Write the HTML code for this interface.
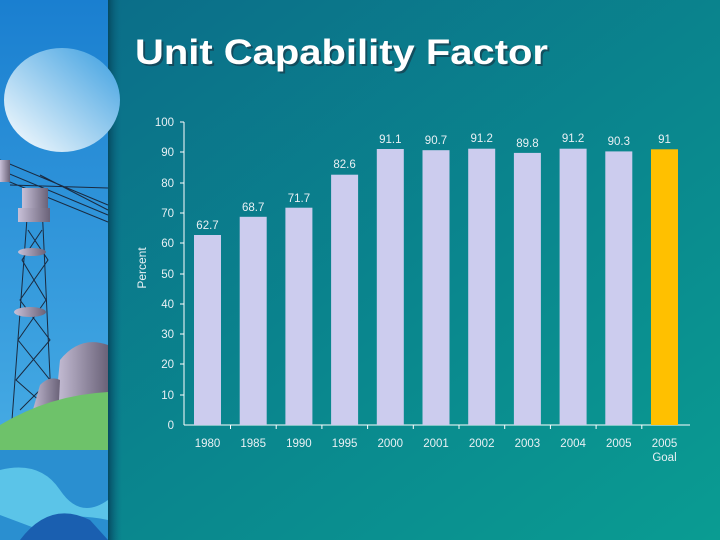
<!DOCTYPE html>
<html><head><style>
body{margin:0;width:720px;height:540px;overflow:hidden;font-family:"Liberation Sans",sans-serif}
</style></head><body>
<svg width="720" height="540" xmlns="http://www.w3.org/2000/svg">
<defs>
<linearGradient id="bg" x1="0" y1="0" x2="1" y2="1">
<stop offset="0" stop-color="#0b6a88"/><stop offset="1" stop-color="#0a9c92"/></linearGradient>
<linearGradient id="sky" x1="0" y1="0" x2="0" y2="1">
<stop offset="0" stop-color="#1a7fd0"/><stop offset="1" stop-color="#4fb4e8"/></linearGradient>
<linearGradient id="moon" x1="0" y1="1" x2="1" y2="0">
<stop offset="0" stop-color="#ffffff"/><stop offset="1" stop-color="#3a9ee0"/></linearGradient>
<linearGradient id="edge" x1="0" y1="0" x2="1" y2="0">
<stop offset="0" stop-color="#054a60"/><stop offset="1" stop-color="#0b6a88" stop-opacity="0"/></linearGradient>
<linearGradient id="tow" x1="0" y1="0" x2="1" y2="0">
<stop offset="0" stop-color="#c8c0d8"/><stop offset="1" stop-color="#6a6278"/></linearGradient>
</defs>
<rect width="720" height="540" fill="url(#bg)"/>
<rect x="108" width="14" height="540" fill="url(#edge)"/>
<rect width="108" height="540" fill="url(#sky)"/>
<ellipse cx="62" cy="100" rx="58" ry="52" fill="url(#moon)"/>
<g stroke="#1a2a40" stroke-width="1" fill="none">
<path d="M0 160 L108 205 M0 170 L108 215 M0 178 L108 222 M10 185 L108 188 M40 175 L108 210"/>
<path d="M28 205 L12 420 M42 205 L52 420 M28 230 L48 260 L20 300 L50 340 L16 380 L50 410 M42 230 L22 260 L46 300 L18 340 L50 380 L20 410"/>
</g>
<rect x="22" y="188" width="26" height="22" fill="url(#tow)"/>
<rect x="18" y="208" width="32" height="14" fill="url(#tow)"/>
<rect x="0" y="160" width="10" height="22" fill="url(#tow)"/>
<ellipse cx="32" cy="252" rx="14" ry="4" fill="url(#tow)"/>
<ellipse cx="30" cy="312" rx="16" ry="5" fill="url(#tow)"/>
<path d="M55 410 L60 360 Q80 335 108 345 L108 410 Z" fill="url(#tow)"/>
<path d="M30 420 L40 385 Q50 375 60 380 L58 420 Z" fill="url(#tow)"/>
<path d="M0 425 Q50 395 108 392 L108 450 L0 450 Z" fill="#6ec26a"/>
<rect x="0" y="450" width="108" height="90" fill="#2a8fd0"/>
<path d="M0 470 Q40 460 60 490 T108 500 L108 520 Q60 510 40 530 L0 515 Z" fill="#5bc4e8"/>
<path d="M20 540 Q50 500 90 520 L108 540 Z" fill="#1a5fb0"/>
<text x="137" y="66" font-size="35" font-weight="bold" fill="#1a3040" opacity="0.6" textLength="413" lengthAdjust="spacingAndGlyphs">Unit Capability Factor</text>
<text x="135" y="64" font-size="35" font-weight="bold" fill="#fff" textLength="413" lengthAdjust="spacingAndGlyphs">Unit Capability Factor</text>
<g stroke="#fff" stroke-width="1">
<line x1="184" y1="122" x2="184" y2="425"/><line x1="184" y1="425" x2="690" y2="425"/>
<line x1="180" y1="122" x2="184" y2="122"/><line x1="180" y1="152" x2="184" y2="152"/><line x1="180" y1="183" x2="184" y2="183"/><line x1="180" y1="213" x2="184" y2="213"/><line x1="180" y1="243" x2="184" y2="243"/><line x1="180" y1="274" x2="184" y2="274"/><line x1="180" y1="304" x2="184" y2="304"/><line x1="180" y1="334" x2="184" y2="334"/><line x1="180" y1="364" x2="184" y2="364"/><line x1="180" y1="395" x2="184" y2="395"/>
<line x1="230.5" y1="425" x2="230.5" y2="429"/><line x1="276.2" y1="425" x2="276.2" y2="429"/><line x1="321.9" y1="425" x2="321.9" y2="429"/><line x1="367.6" y1="425" x2="367.6" y2="429"/><line x1="413.3" y1="425" x2="413.3" y2="429"/><line x1="459" y1="425" x2="459" y2="429"/><line x1="504.7" y1="425" x2="504.7" y2="429"/><line x1="550.4" y1="425" x2="550.4" y2="429"/><line x1="596.1" y1="425" x2="596.1" y2="429"/><line x1="641.8" y1="425" x2="641.8" y2="429"/>
</g>
<g fill="#e8f0f4" font-size="11.5" text-anchor="end">
<text x="174" y="126">100</text><text x="174" y="156">90</text><text x="174" y="187">80</text><text x="174" y="217">70</text><text x="174" y="247">60</text><text x="174" y="278">50</text><text x="174" y="308">40</text><text x="174" y="338">30</text><text x="174" y="368">20</text><text x="174" y="399">10</text><text x="174" y="429">0</text>
</g>
<text transform="translate(146,268) rotate(-90)" fill="#e8f0f4" font-size="12" text-anchor="middle">Percent</text>
<g fill="#ccccee">
<rect x="194" y="235" width="27" height="190"/>
<rect x="239.7" y="216.8" width="27" height="208.2"/>
<rect x="285.4" y="207.7" width="27" height="217.3"/>
<rect x="331.1" y="174.7" width="27" height="250.3"/>
<rect x="376.8" y="149" width="27" height="276"/>
<rect x="422.5" y="150.2" width="27" height="274.8"/>
<rect x="468.2" y="148.7" width="27" height="276.3"/>
<rect x="513.9" y="152.9" width="27" height="272.1"/>
<rect x="559.6" y="148.7" width="27" height="276.3"/>
<rect x="605.3" y="151.4" width="27" height="273.6"/>
<rect x="651" y="149.3" width="27" height="275.7" fill="#ffc000"/>
</g>
<g fill="#e8f0f4" font-size="11.5" text-anchor="middle">
<text x="207.5" y="229">62.7</text><text x="253.2" y="211">68.7</text><text x="298.9" y="202">71.7</text><text x="344.6" y="168">82.6</text><text x="390.3" y="143">91.1</text><text x="436" y="144">90.7</text><text x="481.7" y="142">91.2</text><text x="527.4" y="147">89.8</text><text x="573.1" y="142">91.2</text><text x="618.8" y="145">90.3</text><text x="664.5" y="143">91</text>
<text x="207.5" y="447">1980</text><text x="253.2" y="447">1985</text><text x="298.9" y="447">1990</text><text x="344.6" y="447">1995</text><text x="390.3" y="447">2000</text><text x="436" y="447">2001</text><text x="481.7" y="447">2002</text><text x="527.4" y="447">2003</text><text x="573.1" y="447">2004</text><text x="618.8" y="447">2005</text><text x="664.5" y="447">2005</text><text x="664.5" y="461">Goal</text>
</g>
</svg>
</body></html>
